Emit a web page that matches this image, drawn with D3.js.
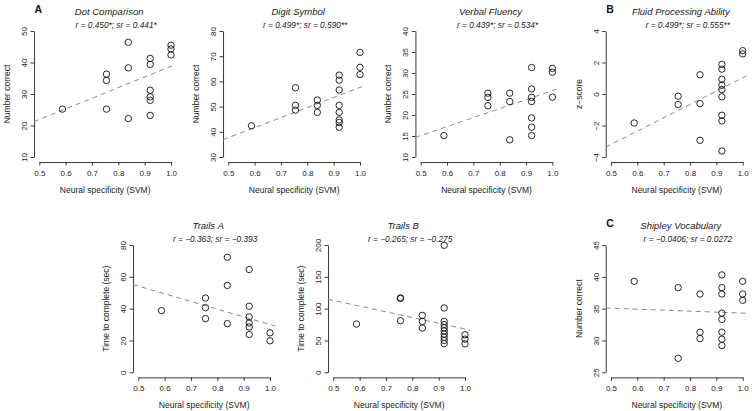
<!DOCTYPE html>
<html>
<head>
<meta charset="utf-8">
<script src="https://cdn.jsdelivr.net/npm/d3@7"></script>
<style>
  body { margin: 0; background: #fff; }
  svg text { font-family: "Liberation Sans", Arial, sans-serif; }
</style>
</head>
<body>
<script>
// x levels are shared by all panels (neural specificity per subject)
const dotX = [0.588, 0.755, 0.755, 0.755, 0.838, 0.838, 0.838, 0.921, 0.921, 0.921, 0.921, 0.921, 0.921, 1.0, 1.0, 1.0];
const dotY = [25.2, 36.3, 34.3, 25.2, 46.4, 38.3, 22.2, 41.3, 39.4, 31.2, 29.1, 28.0, 23.2, 45.5, 44.3, 42.4];

const digitX = [0.588, 0.755, 0.755, 0.755, 0.838, 0.838, 0.838, 0.921, 0.921, 0.921, 0.921, 0.921, 0.921, 0.921, 0.921, 1.0, 1.0, 1.0];
const digitY = [42.4, 57.5, 50.5, 48.6, 52.6, 50.5, 47.7, 62.5, 60.5, 56.6, 50.5, 47.7, 44.7, 43.7, 41.8, 71.5, 65.6, 62.7];

const verbalX = [0.588, 0.755, 0.755, 0.755, 0.838, 0.838, 0.838, 0.921, 0.921, 0.921, 0.921, 0.921, 0.921, 0.921, 1.0, 1.0, 1.0];
const verbalY = [15.1, 25.2, 24.2, 22.2, 25.2, 23.2, 14.1, 31.3, 26.2, 24.2, 23.2, 19.3, 17.1, 15.1, 31.1, 30.2, 24.25];

const fluidX = [0.588, 0.755, 0.755, 0.838, 0.838, 0.838, 0.921, 0.921, 0.921, 0.921, 0.921, 0.921, 0.921, 0.921, 0.921, 1.0, 1.0];
const fluidY = [-1.84, -0.14, -0.67, 1.22, -0.61, -2.94, 1.88, 1.58, 0.94, 0.56, 0.28, -0.18, -1.35, -1.71, -3.62, 2.75, 2.55];

const trailsAX = [0.588, 0.755, 0.755, 0.755, 0.838, 0.838, 0.838, 0.921, 0.921, 0.921, 0.921, 0.921, 0.921, 1.0, 1.0];
const trailsAY = [38.75, 46.7, 40.6, 33.75, 72.3, 54.6, 30.6, 64.6, 41.5, 34.8, 31.0, 28.5, 23.75, 24.8, 19.8];

const trailsBX = [0.588, 0.755, 0.755, 0.755, 0.838, 0.838, 0.838, 0.921, 0.921, 0.921, 0.921, 0.921, 0.921, 0.921, 0.921, 0.921, 0.921, 1.0, 1.0, 1.0];
const trailsBY = [75.8, 116.9, 116.0, 81.0, 89.4, 79.9, 69.5, 199.5, 101.1, 80, 75, 70, 65, 60, 55, 50, 45, 58.9, 52.1, 44.7];

const shipleyX = [0.588, 0.755, 0.755, 0.838, 0.838, 0.838, 0.921, 0.921, 0.921, 0.921, 0.921, 0.921, 0.921, 0.921, 1.0, 1.0, 1.0];
const shipleyY = [39.3, 38.3, 27.2, 37.3, 31.3, 30.3, 40.3, 38.3, 37.3, 34.3, 33.3, 31.3, 30.2, 29.2, 39.3, 37.3, 36.3];

// fitted line: value at x = 0.5 and x = 1.0
const dotFit = [21.9, 38.8];
const digitFit = [37.7, 57.6];
const verbalFit = [15.1, 25.8];
const fluidFit = [-3.2, 1.03];
const trailsAFit = [54.2, 30.0];
const trailsBFit = [113, 68];
const shipleyFit = [35.07, 34.3];

const xTicks = [0.5, 0.6, 0.7, 0.8, 0.9, 1.0];
const dotTicks = [10, 20, 30, 40, 50];
const digitTicks = [30, 40, 50, 60, 70, 80];
const verbalTicks = [10, 15, 20, 25, 30, 35, 40];
const fluidTicks = [-4, -2, 0, 2, 4];
const trailsATicks = [0, 20, 40, 60, 80];
const trailsBTicks = [0, 50, 100, 150, 200];
const shipleyTicks = [25, 30, 35, 40, 45];

const panels = [
  { title: 'Dot Comparison', stat: 'r = 0.450*; sr = 0.441*', ylab: 'Number correct', xs: dotX, ys: dotY, fit: dotFit, ticks: dotTicks, x0: 39.3, top: 31, bottom: 157, letter: 'A' },
  { title: 'Digit Symbol', stat: 'r = 0.499*; sr = 0.590**', ylab: 'Number correct', xs: digitX, ys: digitY, fit: digitFit, ticks: digitTicks, x0: 228.3, top: 31, bottom: 157 },
  { title: 'Verbal Fluency', stat: 'r = 0.439*; sr = 0.534*', ylab: 'Number correct', xs: verbalX, ys: verbalY, fit: verbalFit, ticks: verbalTicks, x0: 420.7, top: 31, bottom: 157 },
  { title: 'Fluid Processing Ability', stat: 'r = 0.499*; sr = 0.555**', ylab: 'z\u2212score', xs: fluidX, ys: fluidY, fit: fluidFit, ticks: fluidTicks, x0: 611, top: 31, bottom: 157, letter: 'B' },
  { title: 'Trails A', stat: 'r = \u22120.363; sr = \u22120.393', ylab: 'Time to complete (sec)', xs: trailsAX, ys: trailsAY, fit: trailsAFit, ticks: trailsATicks, x0: 138.3, top: 245, bottom: 372.3 },
  { title: 'Trails B', stat: 'r = \u22120.265; sr = \u22120.275', ylab: 'Time to complete (sec)', xs: trailsBX, ys: trailsBY, fit: trailsBFit, ticks: trailsBTicks, x0: 333.3, top: 245, bottom: 372.3 },
  { title: 'Shipley Vocabulary', stat: 'r = \u22120.0406; sr = 0.0272', ylab: 'Number correct', xs: shipleyX, ys: shipleyY, fit: shipleyFit, ticks: shipleyTicks, x0: 611, top: 245, bottom: 372.3, letter: 'C' },
];

const W = 752;
const H = 411;
const span = 131.7; // pixels from 0.5 to 1.0

const svg = d3.select('body')
  .append('svg')
  .attr('width', W)
  .attr('height', H);

const fmtY = d => (d < 0 ? '\u2212' + Math.abs(d) : String(d));

panels.forEach(p => {
  const ymin = p.ticks[0];
  const ymax = p.ticks[p.ticks.length - 1];
  const x = d3.scaleLinear().domain([0.5, 1.0]).range([p.x0, p.x0 + span]);
  const y = d3.scaleLinear().domain([ymin, ymax]).range([p.bottom, p.top]);
  const pad = 0.04 * (ymax - ymin);
  const left = x(0.48);
  const right = x(1.02);
  const base = y(ymin - pad);
  const mid = (x(0.5) + x(1.0)) / 2;

  const g = svg.append('g');

  // x axis
  const gx = g.append('g')
    .attr('transform', `translate(0,${base})`)
    .call(d3.axisBottom(x).tickValues(xTicks).tickFormat(d3.format('.1f')).tickSize(3.5).tickSizeOuter(0).tickPadding(4.5));
  gx.selectAll('text').attr('font-size', 8).attr('fill', '#222');

  // y axis, labels parallel to the axis
  const gy = g.append('g')
    .attr('transform', `translate(${left},0)`)
    .call(d3.axisLeft(y).tickValues(p.ticks).tickFormat(fmtY).tickSize(3.5).tickSizeOuter(0));
  gy.selectAll('text')
    .attr('x', null)
    .attr('dy', null)
    .attr('text-anchor', 'middle')
    .attr('transform', 'translate(-7,0) rotate(-90)')
    .attr('font-size', 8)
    .attr('fill', '#222');
  g.selectAll('.domain, .tick line').attr('stroke', '#222').attr('stroke-width', 0.9);

  // fitted line
  const slope = (p.fit[1] - p.fit[0]) / 0.5;
  g.append('line')
    .attr('x1', left)
    .attr('y1', y(p.fit[0] + slope * (0.48 - 0.5)))
    .attr('x2', right)
    .attr('y2', y(p.fit[0] + slope * (1.02 - 0.5)))
    .attr('stroke', '#8a8a8a')
    .attr('stroke-width', 1)
    .attr('stroke-dasharray', '5,4');

  g.append('g')
    .selectAll('circle')
    .data(p.xs.map((d, i) => [d, p.ys[i]]))
    .join('circle')
    .attr('cx', d => x(d[0]))
    .attr('cy', d => y(d[1]))
    .attr('r', 3.2)
    .attr('fill', 'none')
    .attr('stroke', '#111')
    .attr('stroke-width', 0.9);

  g.append('text')
    .attr('x', mid)
    .attr('y', base + 30.5)
    .attr('text-anchor', 'middle')
    .attr('font-size', 8.5)
    .attr('fill', '#222')
    .text('Neural specificity (SVM)');

  g.append('text')
    .attr('transform', `translate(${left - 24},${(p.top + p.bottom) / 2}) rotate(-90)`)
    .attr('text-anchor', 'middle')
    .attr('font-size', 8.5)
    .attr('fill', '#222')
    .text(p.ylab);

  g.append('text')
    .attr('x', mid + 4)
    .attr('y', p.top - 16.5)
    .attr('text-anchor', 'middle')
    .attr('font-size', 9.5)
    .attr('font-style', 'italic')
    .attr('fill', '#222')
    .text(p.title);

  g.append('text')
    .attr('x', mid + 11)
    .attr('y', p.top - 3)
    .attr('text-anchor', 'middle')
    .attr('font-size', 8.3)
    .attr('font-style', 'italic')
    .attr('fill', '#222')
    .text(p.stat);

  if (p.letter) {
    g.append('text')
      .attr('x', left + 0.5)
      .attr('y', p.top - 18)
      .attr('font-size', 10.5)
      .attr('font-weight', 'bold')
      .attr('fill', '#111')
      .text(p.letter);
  }
});
</script>
</body>
</html>
